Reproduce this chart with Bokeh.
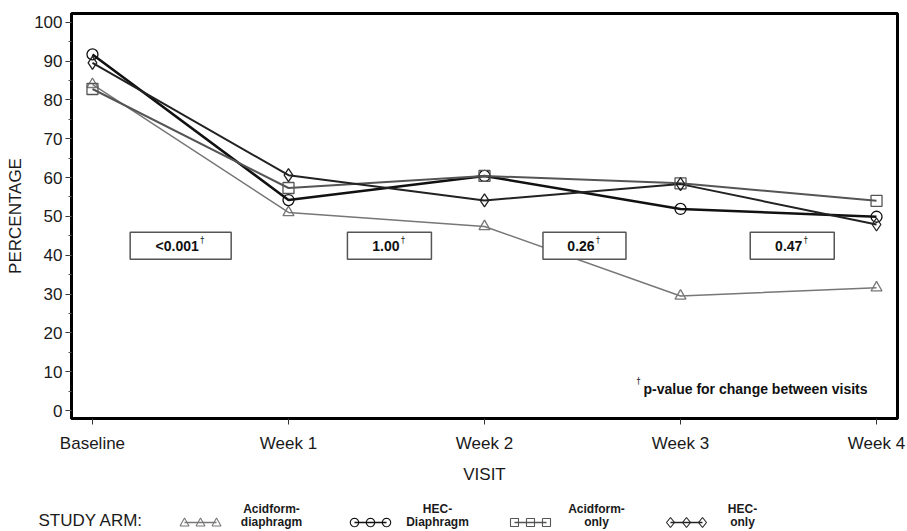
import math
from bokeh.plotting import figure
from bokeh.models import Range1d, FixedTicker, SingleIntervalTicker
from bokeh.core.properties import value
from bokeh.embed import file_html
from bokeh.resources import INLINE

# ---- data ----
visits = ["Baseline", "Week 1", "Week 2", "Week 3", "Week 4"]
acidform_diaphragm = [84.0, 51.0, 47.4, 29.5, 31.6]
hec_diaphragm = [91.7, 54.2, 60.4, 51.9, 49.9]
acidform_only = [82.8, 57.3, 60.4, 58.5, 54.0]
hec_only = [89.5, 60.6, 54.1, 58.3, 47.9]
series_line1 = ["Acidform-", "HEC-", "Acidform-", "HEC-"]
series_line2 = ["diaphragm", "Diaphragm", "only", "only"]
p_values = ["<0.001", "1.00", "0.26", "0.47"]
p_x = [0.45, 1.515, 2.51, 3.57]
p_y = [42.4, 42.4, 42.4, 42.4]
y_ticks_interval = 10
footnote = "p-value for change between visits"

FONT = value("Liberation Sans")
xs = list(range(len(visits)))

p = figure(width=907, height=531, x_range=Range1d(-0.107, 4.107),
           y_range=Range1d(-2.06, 102.24), output_backend="svg",
           toolbar_location=None, min_border_left=71, min_border_right=10,
           min_border_top=13, min_border_bottom=113)
# page-pixel helper ranges for annotations / the legend strip below the frame
p.extra_x_ranges = {"px": Range1d(71, 897)}
p.extra_y_ranges = {"py": Range1d(418, 13)}

p.grid.visible = False
p.outline_line_color = "black"
p.outline_line_width = 3
p.background_fill_color = "white"
p.border_fill_color = "white"

p.yaxis.ticker = SingleIntervalTicker(interval=y_ticks_interval, num_minor_ticks=2)
p.xaxis.ticker = FixedTicker(ticks=xs)
p.xaxis.major_label_overrides = {i: v for i, v in enumerate(visits)}
for ax in (p.xaxis[0], p.yaxis[0]):
    ax.axis_line_color = "black"
    ax.axis_line_width = 3
    ax.major_tick_out = 6
    ax.major_tick_in = 0
    ax.minor_tick_out = 3
    ax.minor_tick_in = 0
    ax.major_tick_line_color = "#333333"
    ax.minor_tick_line_color = "#555555"
    ax.major_label_text_font = "Liberation Sans"
    ax.major_label_text_font_size = "17px"
    ax.major_label_text_color = "#1a1a1a"
    ax.axis_label_text_font = "Liberation Sans"
    ax.axis_label_text_font_size = "17px"
    ax.axis_label_text_font_style = "normal"
    ax.axis_label_text_color = "#1a1a1a"
p.xaxis.minor_tick_line_color = None
p.xaxis.major_label_standoff = 9
p.xaxis.axis_label_standoff = 9
p.yaxis.major_label_standoff = 3
p.yaxis.axis_label_standoff = 6
p.xaxis.axis_label = "VISIT"
p.yaxis.axis_label = "PERCENTAGE"

styles = [
    (acidform_diaphragm, "triangle", "#777777", 1.5),
    (hec_diaphragm, "circle", "#111111", 2.5),
    (acidform_only, "square", "#555555", 2.0),
    (hec_only, "diamond", "#222222", 2.0),
]
for vals, marker, color, lw in styles:
    p.line(xs, vals, line_color=color, line_width=lw)
for vals, marker, color, lw in styles:
    p.scatter(xs, vals, marker=marker, size=11 if marker != "diamond" else 13,
              fill_color=None, line_color=color, line_width=1.3)

# p-value boxes
p.rect(x=p_x, y=p_y, width=[101, 84, 83, 84], height=27,
       width_units="screen", height_units="screen",
       fill_color="white", line_color="#555555", line_width=1.5)
p.text(x=p_x, y=p_y, text=p_values, x_offset=-3.5, text_align="center",
       text_baseline="middle", text_font=FONT, text_font_style="bold",
       text_font_size="14px", text_color="#111111")
p.text(x=p_x, y=p_y, text=["\u2020"] * len(p_values),
       x_offset=[19.5, 11.5, 11.5, 11.5], y_offset=-5, text_align="left",
       text_baseline="middle", text_font=value("DejaVu Sans"), text_font_size="8px",
       text_color="#222222")
# footnote
p.text(x=[643], y=[388], x_range_name="px", y_range_name="py", text=[footnote],
       text_align="left", text_baseline="middle", text_font=FONT,
       text_font_style="bold", text_font_size="14px", text_color="#111111")
p.text(x=[636], y=[381], x_range_name="px", y_range_name="py", text=["\u2020"],
       text_align="left", text_baseline="middle", text_font=value("DejaVu Sans"),
       text_font_size="8px", text_color="#222222")


# ---- legend strip (page pixel coordinates, drawn outside the frame) ----
def marker_outline(kind, cx, cy):
    if kind == "triangle":
        pts = [(-4.5, 3.5), (4.5, 3.5), (0, -4.5), (-4.5, 3.5)]
    elif kind == "square":
        pts = [(-4, -4), (4, -4), (4, 4), (-4, 4), (-4, -4)]
    elif kind == "diamond":
        pts = [(0, -5), (4, 0), (0, 5), (-4, 0), (0, -5)]
    else:
        pts = [(4.2 * math.cos(t * math.pi / 10), 4.2 * math.sin(t * math.pi / 10))
               for t in range(21)]
    return [cx + a for a, b in pts], [cy + b for a, b in pts]


p.text(x=[38], y=[520], x_range_name="px", y_range_name="py", text=["STUDY ARM:"],
       text_align="left", text_baseline="middle", text_font=FONT,
       text_font_size="17px", text_color="#1a1a1a", level="overlay")
sym_start = [184, 354, 514, 670]
txt_center = [271, 437, 596, 742]
LY = 522
for (vals, marker, color, lw), s0, tc, t1, t2 in zip(styles, sym_start, txt_center,
                                                     series_line1, series_line2):
    mx = [s0, s0 + 16, s0 + 32]
    p.line(mx, [LY] * 3, x_range_name="px", y_range_name="py",
           line_color=color, line_width=1.3, level="overlay")
    for cx in mx:
        ox, oy = marker_outline(marker, cx, LY)
        p.line(ox, oy, x_range_name="px", y_range_name="py", line_color=color,
               line_width=1.1, level="overlay")
    p.text(x=[tc, tc], y=[508, 521], x_range_name="px", y_range_name="py",
           text=[t1, t2], text_align="center", text_baseline="middle",
           text_font=FONT, text_font_style="bold", text_font_size="12px",
           text_color="#1a1a1a", level="overlay")

open("out.html", "w").write(file_html(p, INLINE))
